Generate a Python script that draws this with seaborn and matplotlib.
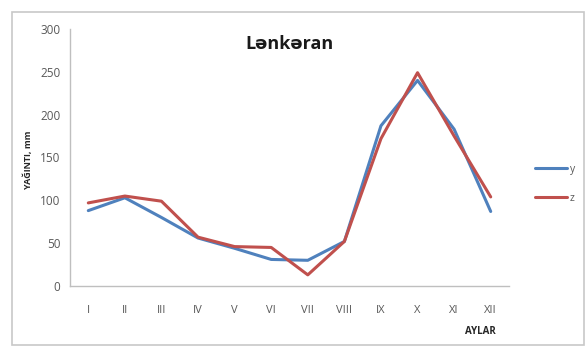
import matplotlib
matplotlib.use("Agg")
import matplotlib.pyplot as plt
from matplotlib.patches import Rectangle
from matplotlib.ticker import FixedLocator
import seaborn as sns
import pandas as pd

# Monthly precipitation, Lənkəran
months = ["I", "II", "III", "IV", "V", "VI", "VII", "VIII", "IX", "X", "XI", "XII"]
series_y = [88, 103, 80, 56, 44, 31, 30, 52, 187, 240, 183, 87]
series_z = [97, 105, 99, 57, 46, 45, 13, 52, 172, 249, 175, 104]
series_names = ["y", "z"]
y_ticks = [0, 50, 100, 150, 200, 250, 300]

df = pd.DataFrame({
    "pos": list(range(len(months))) * 2,
    "value": series_y + series_z,
    "series": [series_names[0]] * len(months) + [series_names[1]] * len(months),
})

sns.set_style("white")
plt.rcParams["font.family"] = ["Open Sans", "DejaVu Sans"]

fig = plt.figure(figsize=(5.85, 3.51), dpi=100)
# chart frame
fig.patches.append(Rectangle((12 / 585, 6 / 351), 572 / 585, 333 / 351,
                             transform=fig.transFigure, fill=False,
                             edgecolor="#c8c8c8", linewidth=1.2))

ax = fig.add_axes([70 / 585, 1 - 286 / 351, 439 / 585, 257 / 351])
sns.lineplot(data=df, x="pos", y="value", hue="series", sort=False,
             palette={"y": "#4f81bd", "z": "#c0504d"}, linewidth=2.2, ax=ax,
             legend=False)

ax.set_xlim(-0.5, len(months) - 0.5)
ax.set_ylim(0, 300)
ax.set_yticks(y_ticks)
ax.set_xticks(range(len(months)))
ax.set_xticklabels(months)
ax.xaxis.set_minor_locator(FixedLocator([i - 0.5 for i in range(len(months) + 1)]))
ax.tick_params(axis="x", which="major", length=0, pad=14, labelsize=8, labelcolor="#595959")
ax.tick_params(axis="x", which="minor", length=4, width=0.8, color="#bfbfbf", direction="out")
ax.tick_params(axis="y", length=4, width=0.8, color="#bfbfbf", direction="out",
               labelsize=8.5, labelcolor="#595959", pad=3)
for side in ["top", "right"]:
    ax.spines[side].set_visible(False)
for side in ["left", "bottom"]:
    ax.spines[side].set_color("#bfbfbf")
    ax.spines[side].set_linewidth(1)
ax.set_xlabel("")
ax.set_ylabel("")

ax.text(0.5, 0.94, "Lənkəran", transform=ax.transAxes, ha="center", va="center",
        fontsize=13, fontweight="bold", color="#1a1a1a")

fig.text(28 / 585, 1 - 160 / 351, "YAĞINTI, mm", rotation=90, ha="center", va="center",
         fontsize=6.5, fontweight="bold", color="#262626")
fig.text(480 / 585, 1 - 332 / 351, "AYLAR", ha="center", va="center",
         fontsize=7, fontweight="bold", color="#262626")

handles = [plt.Line2D([], [], color="#4f81bd", linewidth=2.2),
           plt.Line2D([], [], color="#c0504d", linewidth=2.2)]
fig.legend(handles, series_names, loc="center left",
           bbox_to_anchor=(526 / 585, 1 - 184 / 351), frameon=False,
           handlelength=3.0, handletextpad=0.3, labelspacing=1.7,
           fontsize=7.5, labelcolor="#595959")

fig.savefig("out.png", dpi=100)
